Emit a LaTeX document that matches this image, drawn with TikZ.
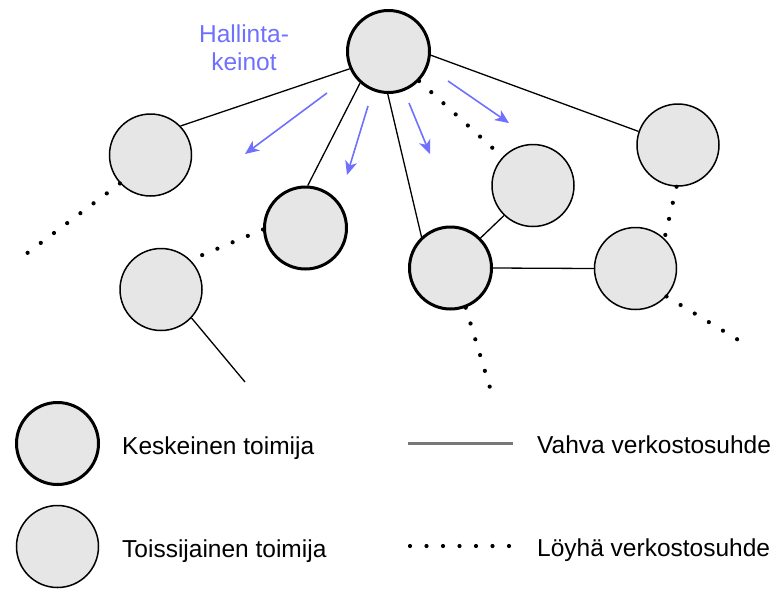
\documentclass[tikz,border=0pt]{standalone}
\usepackage{fontspec}
\setmainfont{Liberation Sans}
\usetikzlibrary{arrows.meta}
\definecolor{nodefill}{RGB}{230,230,230}
\definecolor{ctrlblue}{RGB}{112,112,255}
\definecolor{legendgray}{RGB}{120,120,120}
\tikzset{
  actor/.style={circle,draw=black,fill=nodefill,minimum size=82pt,inner sep=0pt},
  mainactor/.style={actor,line width=3pt},
  sideactor/.style={actor,line width=1.5pt},
  strongtie/.style={draw=black,line width=1.3pt},
  loosetie/.style={draw=black,line width=4.2pt,line cap=round,dash pattern=on 0pt off 16.5pt},
  ctrlarrow/.style={draw=ctrlblue,line width=1.6pt,-{Stealth[length=14pt,width=12pt,inset=4pt]}},
  lbl/.style={inner sep=0pt,font=\fontsize{24.5}{28}\selectfont}
}
\begin{document}
\begin{tikzpicture}[x=1pt,y=-1pt]
\useasboundingbox (0,0) rectangle (776,590);

% actors
\node[mainactor] (T) at (388.5,51.5) {};
\node[sideactor] (A) at (150.5,155) {};
\node[mainactor] (B) at (305.5,228) {};
\node[sideactor] (C) at (161,289.5) {};
\node[mainactor] (D) at (450.5,268) {};
\node[sideactor] (E) at (533,185.5) {};
\node[sideactor] (F) at (678,145) {};
\node[sideactor] (G) at (635.5,268.5) {};

% free ends
\coordinate (cEnd) at (245,382);
\coordinate (aEnd) at (18,260);
\coordinate (dEnd) at (491,391);
\coordinate (gEnd) at (740,341);

% strong ties
\draw[strongtie] (T.204) -- (A.44);
\draw[strongtie] (T.228) -- (B.87);
\draw[strongtie] (T.269) -- (D.133);
\draw[strongtie] (T.355) -- (F.161);
\draw[strongtie] (D.45) -- (E.226);
\draw[strongtie] (D.0) -- (G.180);
\draw[strongtie] (C.317) -- (cEnd);

% loose ties
\draw[loosetie] (A.223) -- (aEnd);
\draw[loosetie] (B.182) -- (C.45);
\draw[loosetie] (T.316) -- (E.137);
\draw[loosetie] (F.268) -- (G.46);
\draw[loosetie] (D.291) -- (dEnd);
\draw[loosetie] (G.318) -- (gEnd);

% control arrows
\coordinate (a1s) at (327,93);  \coordinate (a1e) at (245,154);
\coordinate (a2s) at (368,106); \coordinate (a2e) at (347,175);
\coordinate (a3s) at (409,103); \coordinate (a3e) at (430,154);
\coordinate (a4s) at (448,81);  \coordinate (a4e) at (509,123);
\draw[ctrlarrow] (a1s) -- (a1e);
\draw[ctrlarrow] (a2s) -- (a2e);
\draw[ctrlarrow] (a3s) -- (a3e);
\draw[ctrlarrow] (a4s) -- (a4e);

\node[lbl,text=ctrlblue,align=center,anchor=base] (hk) at (244,70) {Hallinta-\\keinot};

% legend
\node[mainactor] (L1) at (57.5,443.5) {};
\node[sideactor] (L2) at (57.5,546.5) {};
\node[lbl,anchor=base west] (t1) at (122,454) {Keskeinen toimija};
\node[lbl,anchor=base west] (t2) at (122,557) {Toissijainen toimija};
\coordinate (s1) at (408,443); \coordinate (s2) at (513,443);
\coordinate (d1) at (410,546); \coordinate (d2) at (510,546);
\draw[draw=legendgray,line width=3pt] (s1) -- (s2);
\draw[loosetie] (d1) -- (d2);
\node[lbl,anchor=base west] (t3) at (537,453) {Vahva verkostosuhde};
\node[lbl,anchor=base west] (t4) at (537,556) {Löyhä verkostosuhde};
\end{tikzpicture}
\end{document}
